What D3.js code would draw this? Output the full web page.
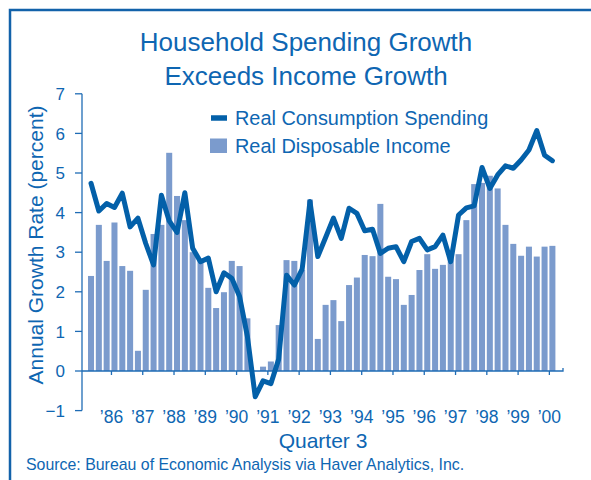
<!DOCTYPE html>
<html>
<head>
<meta charset="utf-8">
<script src="https://cdn.jsdelivr.net/npm/d3@7"></script>
<style>
  body { margin: 0; background: #fff; }
  svg { display: block; font-family: "Liberation Sans", Arial, Helvetica, sans-serif; }
</style>
</head>
<body>
<svg id="chart" width="591" height="480"></svg>
<script>
// ── Data ─────────────────────────────────────────────────────────
// Quarterly, 1985 Q4 through 2000 Q3 (annual growth rates, percent)
const START_YEAR = 1985, START_Q = 4, N_QUARTERS = 60;

const incomeGrowth = [
  2.40, 3.69, 2.78, 3.75, 2.65, 2.53, 0.51, 2.05, 3.46, 3.69,
  5.51, 4.42, 3.81, 3.00, 2.78, 2.10, 1.59, 1.99, 2.78, 2.65,
  1.33, 0.00, 0.11, 0.24, 1.16, 2.80, 2.78, 2.55, 4.33, 0.81,
  1.67, 1.79, 1.26, 2.17, 2.36, 2.93, 2.90, 4.22, 2.38, 2.32,
  1.67, 1.92, 2.55, 2.95, 2.58, 2.68, 2.95, 2.95, 3.81, 4.72,
  4.75, 4.93, 4.61, 3.69, 3.21, 2.91, 3.14, 2.89, 3.14, 3.16
];

const spendingGrowth = [
  4.74, 4.04, 4.23, 4.13, 4.49, 3.64, 3.86, 3.22, 2.68, 4.44,
  3.79, 3.50, 4.50, 3.10, 2.76, 2.85, 2.00, 2.48, 2.34, 1.88,
  0.87, -0.65, -0.25, -0.32, 0.30, 2.42, 2.17, 2.57, 4.28, 2.89,
  3.37, 3.86, 3.35, 4.11, 3.98, 3.54, 3.58, 2.97, 3.10, 3.14,
  2.76, 3.27, 3.35, 3.06, 3.14, 3.43, 2.76, 3.94, 4.12, 4.17,
  5.14, 4.61, 4.95, 5.18, 5.12, 5.33, 5.58, 6.07, 5.45, 5.31
];

const tickYears = ['86', '87', '88', '89', '90', '91', '92', '93', '94', '95', '96', '97', '98', '99', '00'];
const yTicks = [-1, 0, 1, 2, 3, 4, 5, 6, 7];
const legendLabels = ['Real Consumption Spending', 'Real Disposable Income'];

// quarter ids like "1986Q3"
const quarters = [];
for (let i = 0, y = START_YEAR, q = START_Q; i < N_QUARTERS; i++) {
  quarters.push(`${y}Q${q}`);
  q++; if (q > 4) { q = 1; y++; }
}

// ── Colours ──────────────────────────────────────────────────────
const BLUE = '#0e66b2';
const LINE_BLUE = '#0360a9';
const BAR_BLUE = '#7b9bcd';

const svg = d3.select('#chart');

// ── Frame (top + left rule) ──────────────────────────────────────
svg.append('path')
  .attr('d', 'M10,480 L10,10 L591,10')
  .attr('fill', 'none').attr('stroke', '#1262aa').attr('stroke-width', 2.5);

// ── Title ────────────────────────────────────────────────────────
const title = svg.append('text')
  .attr('x', 306).attr('text-anchor', 'middle')
  .attr('fill', BLUE).style('font-size', '26px');
title.append('tspan').attr('x', 306).attr('y', 51).text('Household Spending Growth');
title.append('tspan').attr('x', 306).attr('y', 85).text('Exceeds Income Growth');

// ── Scales ───────────────────────────────────────────────────────
const x = d3.scaleBand()
  .domain(quarters)
  .range([87.1, 556.3])
  .paddingInner(0.23)
  .paddingOuter(0.115);

const y = d3.scaleLinear().domain([-1, 7]).range([410.6, 93.8]);

const AXIS_X = 82;

// ── Bars ─────────────────────────────────────────────────────────
svg.append('g').selectAll('rect')
  .data(incomeGrowth).join('rect')
  .attr('x', (d, i) => x(quarters[i]))
  .attr('width', x.bandwidth())
  .attr('y', d => y(Math.max(0, d)))
  .attr('height', d => Math.abs(y(d) - y(0)))
  .attr('fill', BAR_BLUE);

// ── Axes ─────────────────────────────────────────────────────────
const axisG = svg.append('g')
  .attr('stroke', '#1f6cb5').attr('stroke-width', 1.3).attr('fill', 'none');

// y axis line + left ticks
axisG.append('line')
  .attr('x1', AXIS_X).attr('x2', AXIS_X)
  .attr('y1', y(7)).attr('y2', y(-1));
axisG.selectAll('.yt')
  .data(yTicks).join('line')
  .attr('x1', AXIS_X - 7).attr('x2', AXIS_X)
  .attr('y1', d => y(d)).attr('y2', d => y(d));

// x axis at zero
axisG.append('path')
  .attr('d', `M${AXIS_X},${y(0)} L563,${y(0)} L563,${y(0) - 3}`);

const tickQuarters = tickYears.map(yy => `${+yy < 50 ? 2000 + +yy : 1900 + +yy}Q3`);
axisG.selectAll('.xt')
  .data(tickQuarters).join('line')
  .attr('x1', d => x(d)).attr('x2', d => x(d))
  .attr('y1', y(0)).attr('y2', y(0) + 4);

// y tick labels
svg.append('g').selectAll('text')
  .data(yTicks).join('text')
  .attr('x', 65).attr('y', d => y(d)).attr('dy', '0.36em')
  .attr('text-anchor', 'end').attr('fill', BLUE)
  .style('font-size', '17px')
  .text(d => d < 0 ? '\u2212' + Math.abs(d) : d);

// x tick labels
svg.append('g').selectAll('text')
  .data(tickYears).join('text')
  .attr('x', (d, i) => x(tickQuarters[i]))
  .attr('y', 423)
  .attr('text-anchor', 'middle').attr('fill', BLUE)
  .style('font-size', '17.5px')
  .text(d => '\u2019' + d);

svg.append('text')
  .attr('x', 323).attr('y', 448)
  .attr('text-anchor', 'middle').attr('fill', BLUE)
  .style('font-size', '21px')
  .text('Quarter 3');

// y axis title
svg.append('text')
  .attr('transform', 'translate(43,245) rotate(-90)')
  .attr('text-anchor', 'middle').attr('fill', BLUE)
  .style('font-size', '21px')
  .text('Annual Growth Rate (percent)');

// ── Spending line ────────────────────────────────────────────────
const line = d3.line()
  .x((d, i) => x(quarters[i]) + x.bandwidth() / 2)
  .y(d => y(d));

svg.append('path')
  .datum(spendingGrowth)
  .attr('d', line)
  .attr('fill', 'none')
  .attr('stroke', LINE_BLUE)
  .attr('stroke-width', 5)
  .attr('stroke-linejoin', 'round')
  .attr('stroke-linecap', 'round');

// ── Legend ───────────────────────────────────────────────────────
const legend = svg.append('g');
legend.append('line')
  .attr('x1', 211).attr('x2', 227).attr('y1', 118).attr('y2', 118)
  .attr('stroke', LINE_BLUE).attr('stroke-width', 5.5);
legend.append('rect')
  .attr('x', 210).attr('y', 138.5).attr('width', 17).attr('height', 14.5)
  .attr('fill', BAR_BLUE);
legend.selectAll('text')
  .data(legendLabels).join('text')
  .attr('x', 235).attr('y', (d, i) => 124.5 + i * 28)
  .attr('fill', BLUE)
  .style('font-size', '19.9px')
  .text(d => d);

// ── Source ───────────────────────────────────────────────────────
svg.append('text')
  .attr('x', 26).attr('y', 470)
  .attr('fill', BLUE)
  .style('font-size', '15.9px')
  .text('Source: Bureau of Economic Analysis via Haver Analytics, Inc.');
</script>
</body>
</html>
